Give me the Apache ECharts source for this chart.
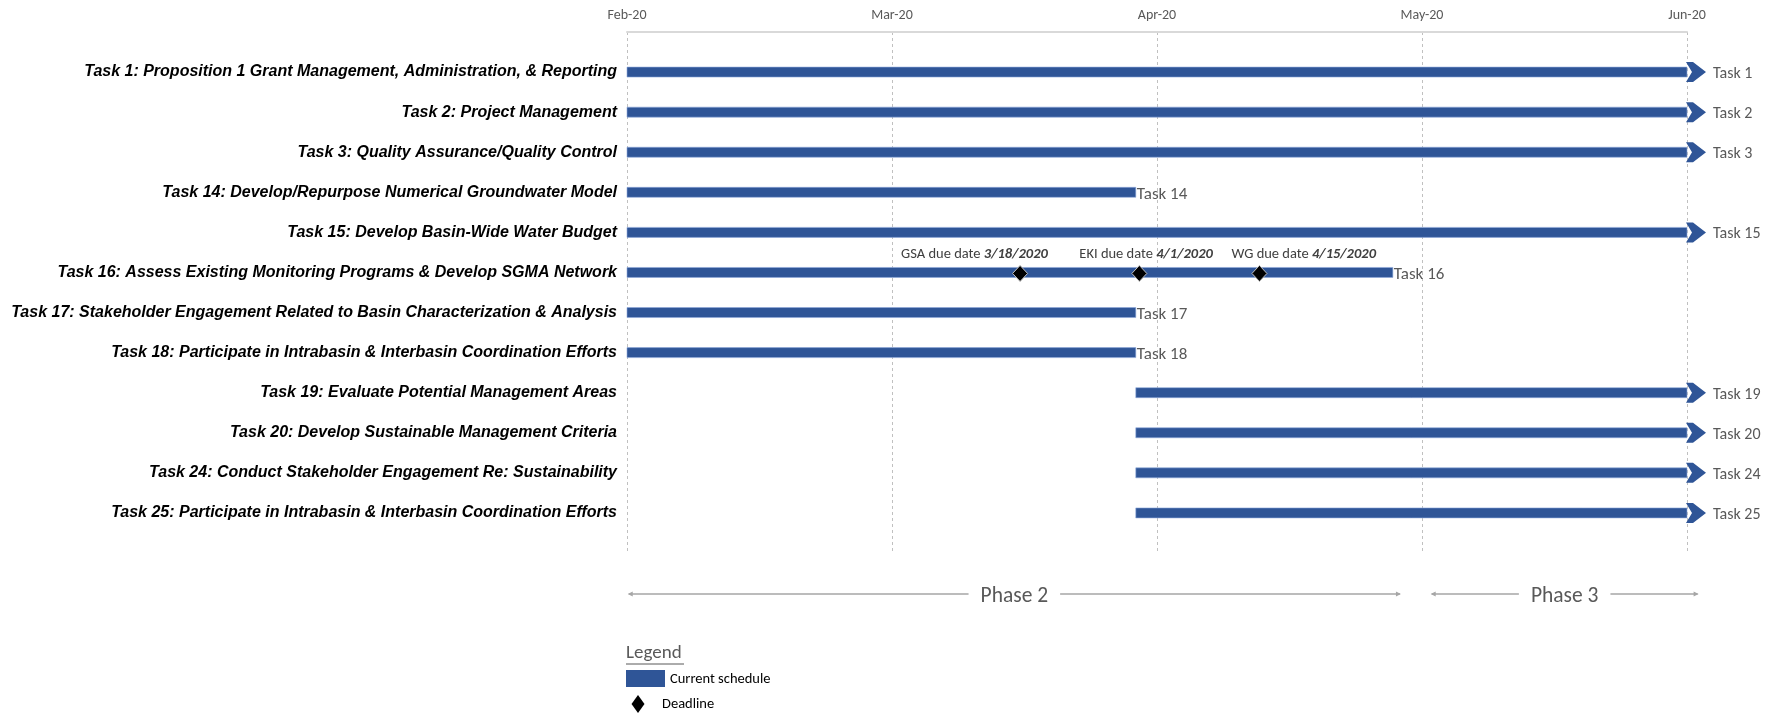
<!DOCTYPE html>
<html>
<head>
<meta charset="utf-8">
<script src="https://cdn.jsdelivr.net/npm/echarts@6/dist/echarts.min.js"></script>
<style>
html,body{margin:0;padding:0;background:#fff;}
#chart{width:1783px;height:715px;}
</style>
</head>
<body>
<div id="chart"></div>
<script>
// ---- data (x values are days counted from Feb 1, 2020 on the chart scale) ----
const tickLabels = ['Feb-20', 'Mar-20', 'Apr-20', 'May-20', 'Jun-20'];
const taskNames = [
  'Task 1: Proposition 1 Grant Management, Administration, & Reporting',
  'Task 2: Project Management',
  'Task 3: Quality Assurance/Quality Control',
  'Task 14: Develop/Repurpose Numerical Groundwater Model',
  'Task 15: Develop Basin-Wide Water Budget',
  'Task 16: Assess Existing Monitoring Programs & Develop SGMA Network',
  'Task 17: Stakeholder Engagement Related to Basin Characterization & Analysis',
  'Task 18: Participate in Intrabasin & Interbasin Coordination Efforts',
  'Task 19: Evaluate Potential Management Areas',
  'Task 20: Develop Sustainable Management Criteria',
  'Task 24: Conduct Stakeholder Engagement Re: Sustainability',
  'Task 25: Participate in Intrabasin & Interbasin Coordination Efforts'
];
const taskShort = ['Task 1','Task 2','Task 3','Task 14','Task 15','Task 16','Task 17','Task 18','Task 19','Task 20','Task 24','Task 25'];
const taskStart = [0, 0, 0, 0, 0, 0, 0, 0, 57.6, 57.6, 57.6, 57.6];
const taskEnd   = [120, 120, 120, 57.6, 120, 86.7, 57.6, 57.6, 120, 120, 120, 120];
const taskContinues = [1, 1, 1, 0, 1, 0, 0, 0, 1, 1, 1, 1];

const milestoneNames = ['GSA due date', 'EKI due date', 'WG due date'];
const milestoneDates = ['3/18/2020', '4/1/2020', '4/15/2020'];
const milestoneDay   = [44.5, 58.0, 71.6];
const milestoneTask  = 6;   // row of Task 16

const phaseNames = ['Phase 2', 'Phase 3'];
const phaseStart = [0.2, 91.1];
const phaseEnd   = [87.5, 121.2];

// ---- chart ----
const BLUE = '#2f5597';
const LABEL_FONT = 'Carlito, Lato, "Open Sans", sans-serif';
const chart = echarts.init(document.getElementById('chart'), null, {renderer: 'canvas'});

const barData = taskNames.map((n, i) => [i + 1, taskStart[i], taskEnd[i], taskContinues[i]]);
const msData = milestoneDay.map((d, i) => [d, milestoneTask]);
const phaseData = phaseNames.map((n, i) => [phaseStart[i], phaseEnd[i]]);
const msLabelDx = [-119, -60, -28];

const option = {
  backgroundColor: '#fff',
  animation: false,
  grid: {left: 627, right: 96, top: 32, bottom: 164, containLabel: false},
  xAxis: {
    type: 'value', position: 'top', min: 0, max: 120, interval: 30,
    axisLine: {show: true, lineStyle: {color: '#d9d9d9', width: 2}},
    axisTick: {show: false},
    axisLabel: {
      margin: 10, color: '#595959', fontSize: 14, fontFamily: LABEL_FONT,
      formatter: v => tickLabels[Math.round(v / 30)] || ''
    },
    splitLine: {show: true, lineStyle: {color: '#c0c0c0', type: [3, 3], width: 1}}
  },
  yAxis: {
    type: 'value', inverse: true, min: 0, max: 12.95, interval: 1,
    axisLine: {show: false}, axisTick: {show: false}, splitLine: {show: false},
    axisLabel: {
      margin: 10, color: '#000', fontSize: 16, fontWeight: 'bold', fontStyle: 'italic',
      fontFamily: '"Liberation Sans", Arial, sans-serif',
      formatter: v => taskNames[v - 1] || ''
    }
  },
  series: [
    {
      name: 'Current schedule', type: 'custom', clip: false,
      encode: {x: [1, 2], y: 0},
      data: barData,
      renderItem: function (params, api) {
        const i = params.dataIndex;
        const row = api.value(0);
        const p0 = api.coord([api.value(1), row]);
        const p1 = api.coord([api.value(2), row]);
        const cy = p0[1];
        const h = 10;
        const cont = api.value(3) === 1;
        const children = [{
          type: 'rect',
          shape: {x: p0[0], y: cy - h / 2, width: p1[0] - p0[0], height: h},
          style: {fill: BLUE, stroke: '#8eaadb', lineWidth: 0.6}
        }];
        if (cont) {
          const x = p1[0];
          children.push({
            type: 'polygon',
            shape: {points: [[x - 1, cy - 10], [x + 6, cy - 10], [x + 19, cy], [x + 6, cy + 10], [x - 1, cy + 10], [x + 5, cy]]},
            style: {fill: BLUE}
          });
        }
        children.push({
          type: 'text',
          style: {
            text: taskShort[i], x: cont ? p1[0] + 26 : p1[0] + 1, y: cy + 2,
            align: 'left', verticalAlign: 'middle',
            fill: '#595959', font: (cont ? '16px ' : '17px ') + LABEL_FONT
          }
        });
        return {type: 'group', children: children};
      }
    },
    {
      name: 'Deadline', type: 'custom', clip: false,
      encode: {x: 0, y: 1},
      data: msData,
      z: 5,
      renderItem: function (params, api) {
        const i = params.dataIndex;
        const p = api.coord([api.value(0), api.value(1)]);
        const x = p[0], y = p[1] + 1;
        return {
          type: 'group',
          children: [
            {
              type: 'polygon',
              shape: {points: [[x, y - 8], [x + 7.5, y], [x, y + 8], [x - 7.5, y]]},
              style: {fill: '#000', stroke: '#bfbfbf', lineWidth: 1}
            },
            {
              type: 'text',
              style: {
                text: milestoneNames[i] + ' {d|' + milestoneDates[i] + '}',
                x: x + msLabelDx[i], y: y - 19, align: 'left', verticalAlign: 'middle',
                fill: '#404040', font: '14.5px ' + LABEL_FONT,
                rich: {d: {fontWeight: 'bold', fontStyle: 'italic', fontSize: 14.5, fontFamily: LABEL_FONT, fill: '#404040', color: '#404040'}}
              }
            }
          ]
        };
      }
    },
    {
      name: 'Phases', type: 'custom', clip: false, silent: true,
      encode: {x: [0, 1]},
      data: phaseData,
      renderItem: function (params, api) {
        const i = params.dataIndex;
        const ROW = 14.02;
        const a = api.coord([api.value(0), ROW]);
        const b = api.coord([api.value(1), ROW]);
        const y = a[1];
        const col = '#a6a6a6';
        return {
          type: 'group',
          children: [
            {type: 'line', shape: {x1: a[0], y1: y, x2: b[0], y2: y}, style: {stroke: col, lineWidth: 1.5}},
            {type: 'polygon', shape: {points: [[a[0] - 1, y], [a[0] + 4, y - 2.5], [a[0] + 4, y + 2.5]]}, style: {fill: col}},
            {type: 'polygon', shape: {points: [[b[0] + 1, y], [b[0] - 4, y - 2.5], [b[0] - 4, y + 2.5]]}, style: {fill: col}},
            {
              type: 'text',
              style: {
                text: phaseNames[i], x: (a[0] + b[0]) / 2, y: y + 3,
                align: 'center', verticalAlign: 'middle',
                fill: '#595959', font: '21.5px ' + LABEL_FONT,
                backgroundColor: '#fff', padding: [2, 12]
              }
            }
          ]
        };
      }
    }
  ],
  graphic: [
    {type: 'text', left: 626, top: 644, style: {text: 'Legend', fill: '#595959', font: '19px ' + LABEL_FONT}},
    {type: 'line', shape: {x1: 626, y1: 664, x2: 684, y2: 664}, style: {stroke: '#595959', lineWidth: 1}},
    {type: 'rect', shape: {x: 626, y: 670, width: 39, height: 17}, style: {fill: BLUE}},
    {type: 'text', x: 670, y: 679, style: {text: 'Current schedule', fill: '#000', font: '14.5px ' + LABEL_FONT, verticalAlign: 'middle'}},
    {type: 'polygon', shape: {points: [[638, 695], [644.5, 704], [638, 713], [631.5, 704]]}, style: {fill: '#000'}},
    {type: 'text', x: 662, y: 704, style: {text: 'Deadline', fill: '#000', font: '14.5px ' + LABEL_FONT, verticalAlign: 'middle'}}
  ]
};
chart.setOption(option);
</script>
</body>
</html>
